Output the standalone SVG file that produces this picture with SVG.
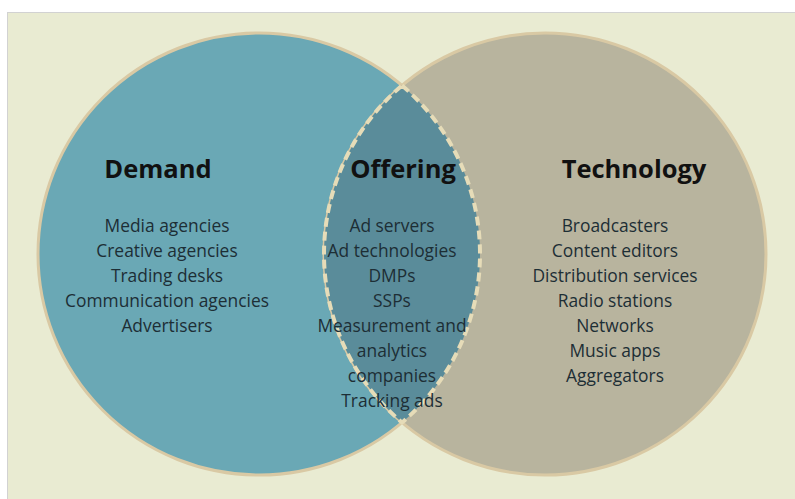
<svg xmlns="http://www.w3.org/2000/svg" width="795" height="499" viewBox="0 0 795 499">
  <style>
    .head { font-family: "Open Sans", "Liberation Sans", sans-serif; font-weight: 700; font-size: 25.5px; fill: #111; text-anchor: middle; }
    .item { font-family: "Open Sans", "Liberation Sans", sans-serif; font-size: 17.4px; fill: #1d2e35; text-anchor: middle; }
    .ring { stroke: #d9c9a4; stroke-width: 3; }
  </style>
  <defs>
    <clipPath id="leftClip">
      <circle cx="259" cy="254" r="221"/>
    </clipPath>
  </defs>
  <rect x="0" y="0" width="795" height="499" fill="#ffffff"/>
  <rect x="7.5" y="12.5" width="800" height="500" fill="#e9ebd2" stroke="#d2d2d2" stroke-width="1"/>

  <g id="demand">
    <circle class="ring" cx="259" cy="254" r="221" fill="#6aa8b5"/>
  </g>
  <g id="technology">
    <circle class="ring" cx="545" cy="254" r="221" fill="#b8b49e"/>
  </g>
  <g id="offering">
    <circle cx="545" cy="254" r="221" fill="#5a8c9a" clip-path="url(#leftClip)"/>
    <path d="M402,85.5 A221,221 0 0 1 402,422.5 A221,221 0 0 1 402,85.5 Z" fill="none" stroke="#e6dcb8" stroke-width="4" stroke-dasharray="9 5"/>
  </g>

  <g id="demand-text">
    <text class="head" x="158" y="178">Demand</text>
    <text class="item" x="167" y="232">Media agencies</text>
    <text class="item" x="167" y="257">Creative agencies</text>
    <text class="item" x="167" y="282">Trading desks</text>
    <text class="item" x="167" y="307">Communication agencies</text>
    <text class="item" x="167" y="332">Advertisers</text>
  </g>
  <g id="offering-text">
    <text class="head" x="403" y="178">Offering</text>
    <text class="item" x="392" y="232">Ad servers</text>
    <text class="item" x="392" y="257">Ad technologies</text>
    <text class="item" x="392" y="282">DMPs</text>
    <text class="item" x="392" y="307">SSPs</text>
    <text class="item" x="392" y="332">Measurement and</text>
    <text class="item" x="392" y="357">analytics</text>
    <text class="item" x="392" y="382">companies</text>
    <text class="item" x="392" y="407">Tracking ads</text>
  </g>
  <g id="technology-text">
    <text class="head" x="634" y="178">Technology</text>
    <text class="item" x="615" y="232">Broadcasters</text>
    <text class="item" x="615" y="257">Content editors</text>
    <text class="item" x="615" y="282">Distribution services</text>
    <text class="item" x="615" y="307">Radio stations</text>
    <text class="item" x="615" y="332">Networks</text>
    <text class="item" x="615" y="357">Music apps</text>
    <text class="item" x="615" y="382">Aggregators</text>
  </g>

  <g id="connectors"/>
</svg>
